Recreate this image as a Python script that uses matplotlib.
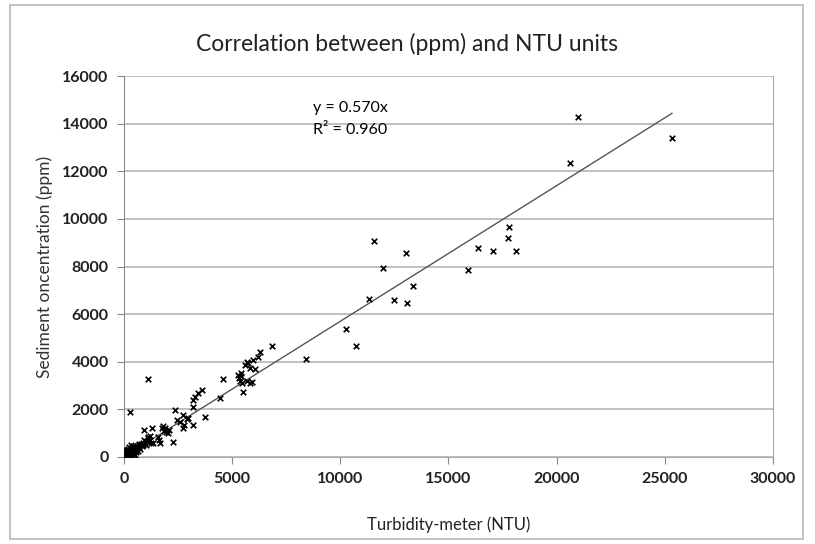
import matplotlib.pyplot as plt
from matplotlib.patches import Rectangle

# turbidity (NTU) vs sediment concentration (ppm)
ntu = [50, 80, 100, 120, 150, 180, 200, 220, 250, 260, 300, 320, 350, 380, 400,
       420, 450, 480, 500, 530, 560, 600, 620, 650, 680, 700, 150, 200, 70, 130,
       250, 350, 400, 90, 300, 450, 550, 750, 800, 850, 900, 950, 1000, 1050,
       1100, 1150, 1200, 1250, 30, 60, 110, 170, 240, 330, 430, 520, 640, 720,
       880, 924, 1110, 1200, 1300, 1340, 1570, 1620, 1660, 1760, 1850, 1950,
       2030, 1800, 1900, 2100, 2270, 2360, 2450, 2600, 2730, 2730, 2800, 2900,
       2960, 3190, 3190, 3190, 3280, 3420, 3610, 3740, 4440, 4580, 5270, 5300,
       5350, 5400, 5455, 5500, 5400, 5700, 5730, 5830, 5920, 5960, 6060, 6190,
       6290, 6840, 8410, 10260, 10720, 11330, 11560, 11970, 12480, 13040, 13080,
       13360, 15900, 16360, 17060, 17750, 17800, 18100, 20600, 21000, 25330,
       280, 1110, 5600, 5700, 5850]
ppm = [20, 60, 120, 40, 180, 90, 250, 150, 60, 300, 200, 110, 380, 260, 150,
       450, 320, 220, 400, 100, 300, 480, 380, 250, 500, 420, 50, 30, 200, 300,
       400, 500, 60, 10, 80, 140, 200, 350, 550, 480, 600, 700, 520, 650,
       800, 720, 880, 600, 100, 160, 230, 340, 120, 260, 200, 330, 420, 560,
       500, 1130, 840, 700, 1220, 590, 840, 700, 590, 1220, 1100, 1050,
       1010, 1300, 1200, 1150, 630, 1975, 1550, 1450, 1765, 1220, 1350, 1600,
       1640, 1345, 2100, 2400, 2520, 2690, 2815, 1680, 2480, 3280, 3450, 3300,
       3200, 3400, 3110, 2730, 3530, 4000, 3950, 3740, 3150, 4080, 3700, 4200,
       4410, 4660, 4120, 5380, 4660, 6640, 9080, 7940, 6600, 8570, 6470,
       7190, 7860, 8780, 8660, 9200, 9660, 8660, 12350, 14290, 13400,
       1890, 3280, 3850, 3200, 3100]

slope = 0.570
r2 = 0.960
fit_x = [0, 25330]
fit_y = [slope * v for v in fit_x]

plt.rcParams['font.family'] = ['Lato', 'DejaVu Sans']

fig = plt.figure(figsize=(8.15, 5.44), dpi=100)
ax = fig.add_axes([0.152, 0.160, 0.7965, 0.700])

# outer chart border
fig.patches.append(Rectangle((10 / 815, 1 - 539 / 544), 793 / 815, 534 / 544,
                             transform=fig.transFigure, fill=False,
                             edgecolor='#b8b8b8', linewidth=1.2))

ax.scatter(ntu, ppm, marker='x', color='black', s=16, linewidths=1.2, zorder=3)
ax.plot(fit_x, fit_y, color='#555555', linewidth=1, zorder=2)

ax.set_xlim(0, 30000)
ax.set_ylim(0, 16000)
ax.set_xticks(range(0, 30001, 5000))
ax.set_yticks(range(0, 16001, 2000))
ax.yaxis.grid(True, color='#b5b5b5', linewidth=1.2)
ax.set_axisbelow(True)

ax.spines['top'].set_visible(False)
ax.spines['right'].set_color('#aaaaaa')
ax.spines['left'].set_color('#888888')
ax.spines['bottom'].set_color('#aaaaaa')
ax.tick_params(axis='both', direction='out', length=5, color='#888888',
               labelsize=11.5, pad=6)
for lab in ax.get_xticklabels() + ax.get_yticklabels():
    lab.set_fontweight('bold')
    lab.set_color('#222222')

ax.set_xlabel('Turbidity-meter (NTU)', fontsize=12, labelpad=22, color='#222222')
ax.set_ylabel('Sediment oncentration (ppm)', fontsize=12.5, labelpad=7, color='#333333')
fig.suptitle('Correlation between (ppm) and NTU units', y=0.94, fontsize=16.5,
             color='#222222')

ax.text(8737, 14660, 'y = %.3fx' % slope, fontsize=11.5, va='center')
ax.text(8737, 13740, 'R\u00b2 = %.3f' % r2, fontsize=11.5, va='center')

fig.savefig('out.png', dpi=100)
